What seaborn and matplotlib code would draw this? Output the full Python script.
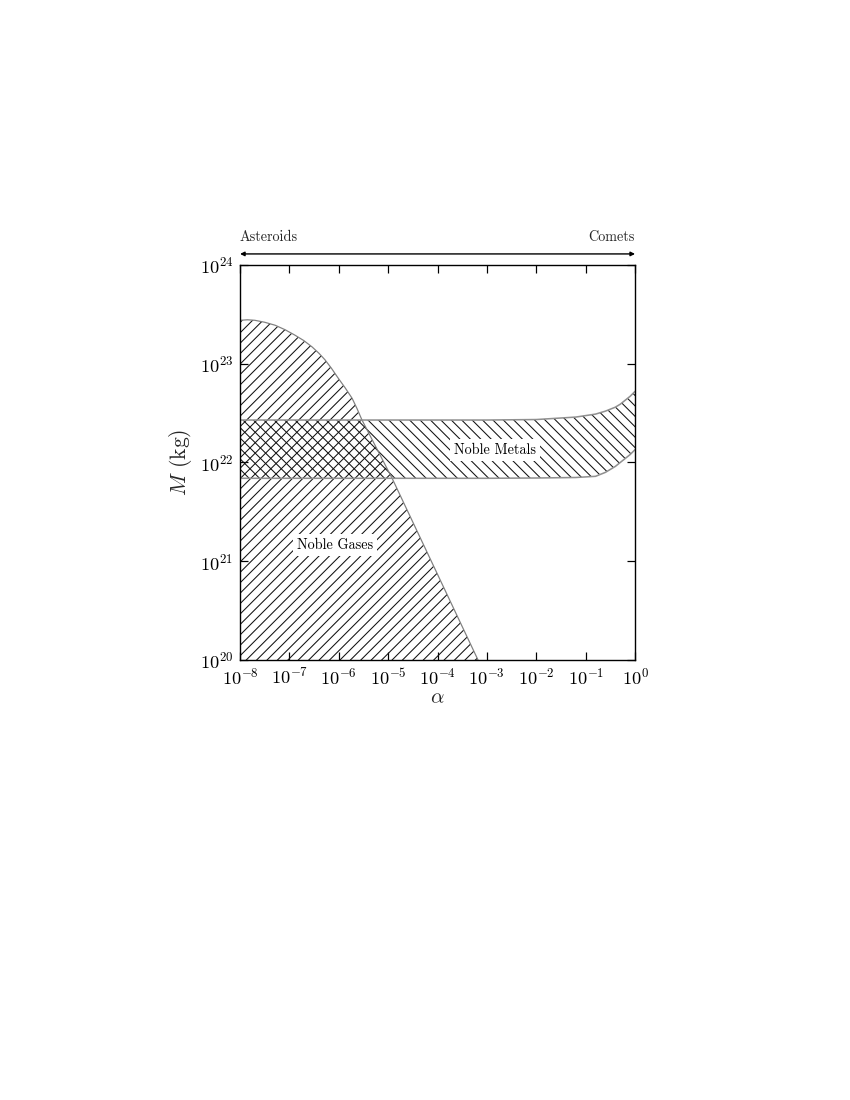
import numpy as np
import pandas as pd
import matplotlib
matplotlib.use("Agg")
import matplotlib.pyplot as plt
import seaborn as sns

# ── Data (log10 values) ──────────────────────────────────────────────────
gas_log_alpha = [-8.0, -7.85, -7.70, -7.50, -7.29, -7.09, -6.89, -6.71, -6.54,
                 -6.40, -6.28, -6.15, -6.02, -5.87, -5.73, -5.63, -5.53, -4.92, -3.18]
gas_log_mass = [23.44, 23.445, 23.44, 23.42, 23.39, 23.345, 23.29, 23.235, 23.17,
                23.105, 23.04, 22.955, 22.86, 22.755, 22.65, 22.545, 22.43, 21.84, 20.0]

metal_log_alpha = [-8.0, -3.0, -2.0, -1.2, -0.8, -0.6, -0.4, -0.3, -0.2, -0.1, 0.0]
metal_upper_log = [22.43, 22.43, 22.435, 22.46, 22.49, 22.52, 22.56, 22.59, 22.63, 22.67, 22.72]
metal_lower_log = [21.84, 21.84, 21.843, 21.848, 21.86, 21.90, 21.96, 22.00, 22.04, 22.08, 22.13]

x_ticks = [1e-8, 1e-7, 1e-6, 1e-5, 1e-4, 1e-3, 1e-2, 1e-1, 1e0]
y_ticks = [1e20, 1e21, 1e22, 1e23, 1e24]

gas = pd.DataFrame({"alpha": np.power(10.0, gas_log_alpha),
                    "mass": np.power(10.0, gas_log_mass)})
metals = pd.DataFrame({"alpha": np.power(10.0, metal_log_alpha),
                       "upper": np.power(10.0, metal_upper_log),
                       "lower": np.power(10.0, metal_lower_log)})

# ── Style ────────────────────────────────────────────────────────────────
sns.set_style("ticks")
plt.rcParams["font.family"] = ["cmr10", "DejaVu Serif"]
plt.rcParams["mathtext.fontset"] = "cm"
plt.rcParams["axes.formatter.use_mathtext"] = True
plt.rcParams["hatch.linewidth"] = 0.6
plt.rcParams["axes.unicode_minus"] = False

fig = plt.figure(figsize=(6.8, 8.8), dpi=125)
ax = fig.add_axes([0.2824, 0.4, 0.4647, 0.3591])
ax.set_xscale("log")
ax.set_yscale("log")

# Noble gases region (hatched /)
ax.fill_between(gas["alpha"], gas["mass"], 1e20, facecolor="none",
                edgecolor="#111111", hatch="////", linewidth=0)
sns.lineplot(data=gas, x="alpha", y="mass", ax=ax, color="#808080",
             linewidth=0.7, sort=False, estimator=None)

# Noble metals band (hatched \)
ax.fill_between(metals["alpha"], metals["lower"], metals["upper"], facecolor="none",
                edgecolor="#111111", hatch="\\\\\\\\", linewidth=0)
sns.lineplot(data=metals, x="alpha", y="upper", ax=ax, color="#909090",
             linewidth=0.9, estimator=None)
sns.lineplot(data=metals, x="alpha", y="lower", ax=ax, color="#909090",
             linewidth=0.9, estimator=None)

# Labels on regions
box = dict(facecolor="white", edgecolor="none", pad=2.5)
ax.text(8.4e-7, 1.46e21, "Noble Gases", ha="center", va="center", fontsize=8.2,
        color="black", bbox=box)
ax.text(1.46e-3, 1.34e22, "Noble Metals", ha="center", va="center", fontsize=8.2,
        color="black", bbox=box)

ax.set_xlim(1e-8, 1e0)
ax.set_ylim(1e20, 1e24)
ax.set_xticks(x_ticks)
ax.set_yticks(y_ticks)
ax.minorticks_off()
ax.tick_params(which="major", direction="in", length=4.5, width=0.7,
               top=True, right=True, labelsize=10.5, pad=4, color="black",
               labelcolor="black")
for s in ax.spines.values():
    s.set_color("black")
    s.set_linewidth(0.8)

ax.set_xlabel(r"$\alpha$", fontsize=12, labelpad=1)
ax.set_ylabel(r"$M$ (kg)", fontsize=12.5, labelpad=3)

# Asteroids <-> Comets arrow above the axes
ax.annotate("", xy=(1.0, 1.028), xytext=(0.0, 1.028), xycoords="axes fraction",
            arrowprops=dict(arrowstyle="<|-|>", color="black", lw=0.8,
                            mutation_scale=5, shrinkA=0, shrinkB=0))
ax.text(0.0, 1.07, "Asteroids", transform=ax.transAxes, ha="left", va="center", fontsize=8.2)
ax.text(1.0, 1.07, "Comets", transform=ax.transAxes, ha="right", va="center", fontsize=8.2)

fig.savefig("out.png", dpi=125)
plt.close(fig)
